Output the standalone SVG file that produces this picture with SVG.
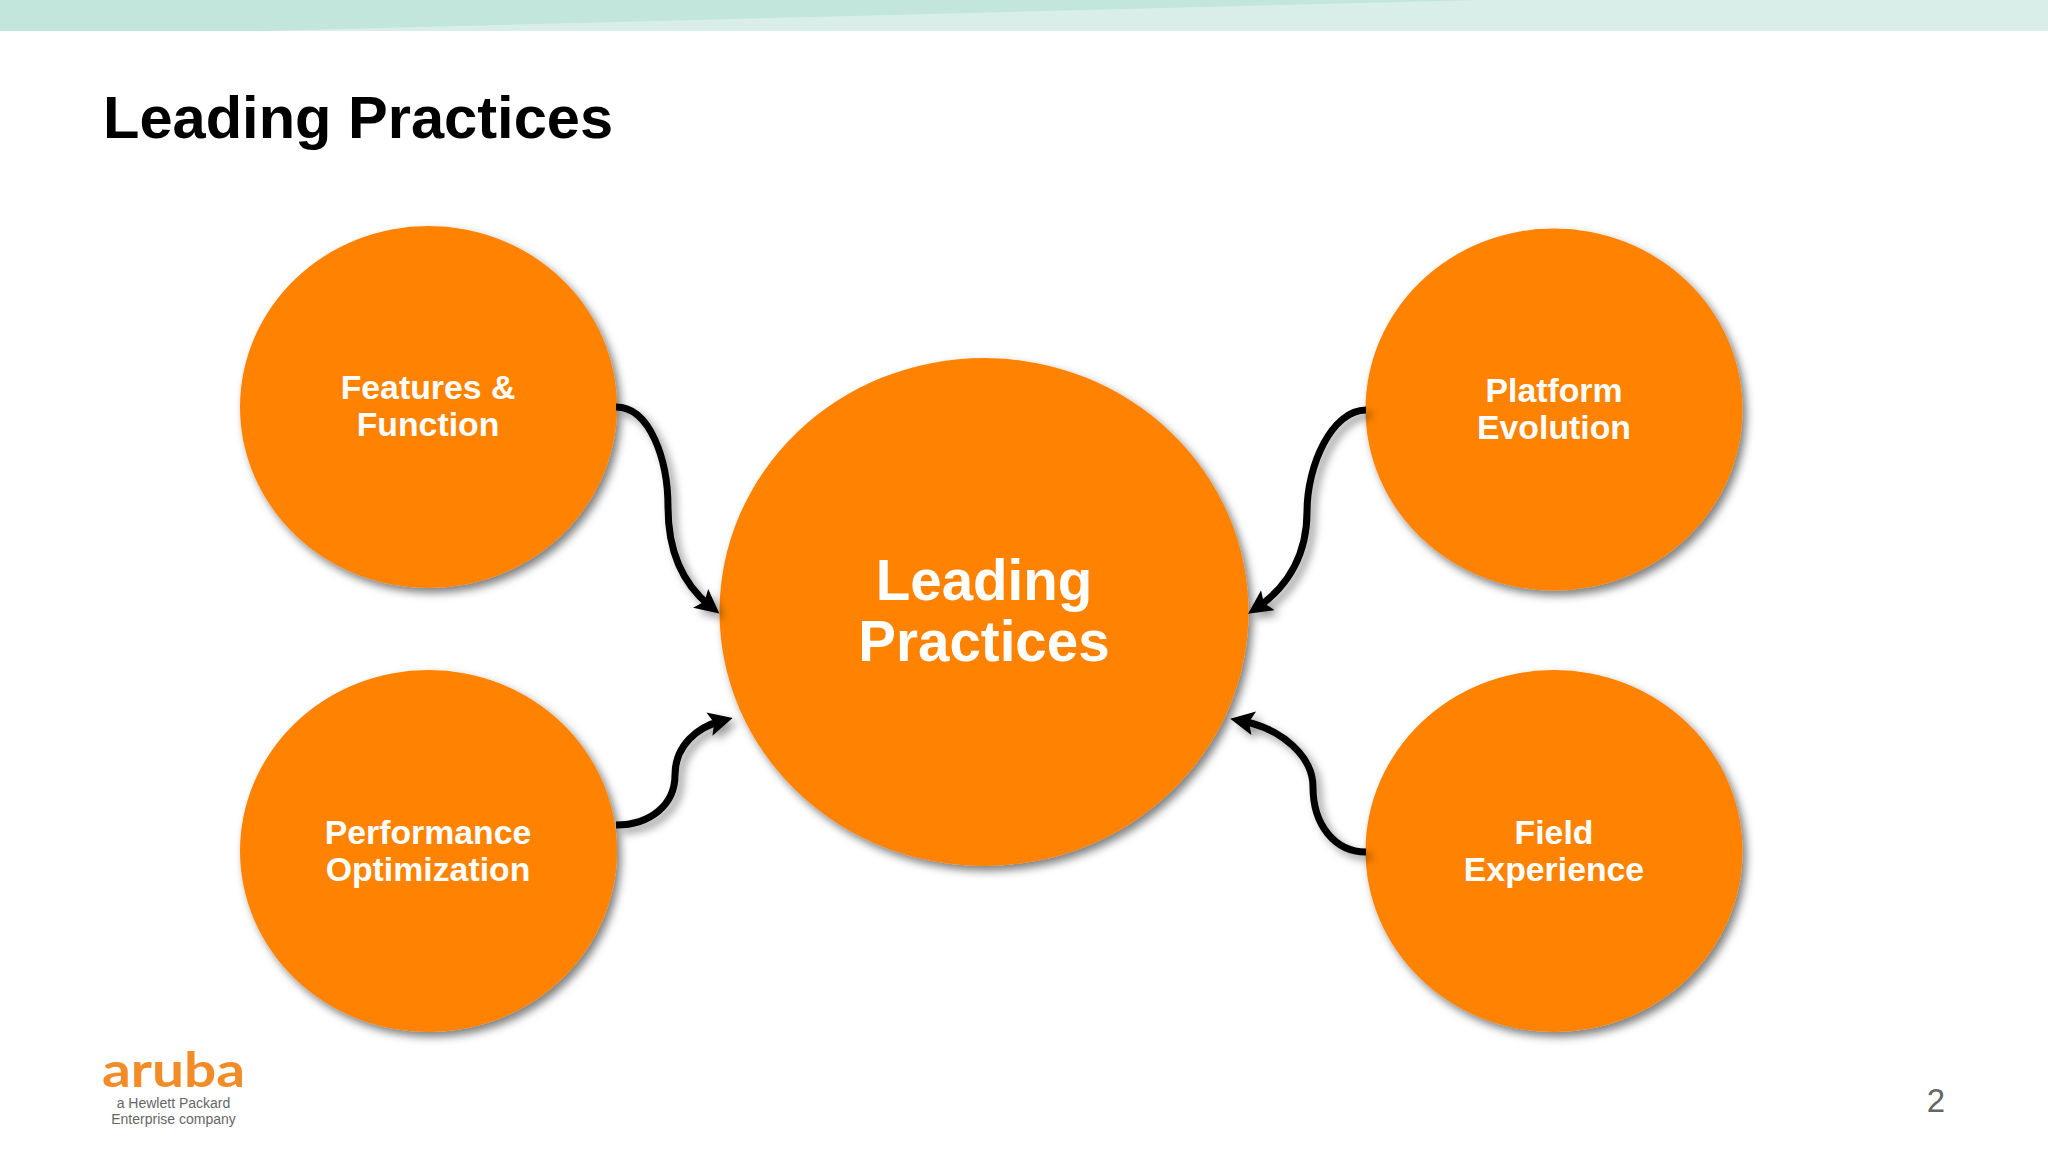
<svg xmlns="http://www.w3.org/2000/svg" width="2048" height="1152" viewBox="0 0 2048 1152">
<style>
text{font-family:"Liberation Sans",Arial,sans-serif}
.node{fill:#ff8300;filter:url(#sh)}
.t{fill:#fff;font-weight:700;font-size:33.8px;text-anchor:middle}
.big{fill:#fff;font-weight:700;font-size:56.5px;text-anchor:middle}
.c{fill:none;stroke:#000;stroke-width:7;marker-end:url(#arrow)}
</style>
<defs>
<filter id="sh" x="-10%" y="-10%" width="125%" height="125%"><feDropShadow dx="4" dy="5" stdDeviation="4" flood-color="#000" flood-opacity="0.5"/></filter>
<filter id="shc" x="-30%" y="-30%" width="170%" height="170%"><feDropShadow dx="5" dy="5" stdDeviation="4" flood-color="#000" flood-opacity="0.4"/></filter>
<marker id="arrow" markerUnits="userSpaceOnUse" markerWidth="28" markerHeight="28" refX="12" refY="12" orient="auto"><path d="M0 0L24 12L0 24L5 12Z" fill="#000"/></marker>
</defs>
<rect width="2048" height="1152" fill="#fff"/>
<g id="band"><rect width="2048" height="31" fill="#c2e6dc"/><polygon points="261,31 1480,0 2048,0 2048,31" fill="#d9eee8"/></g>
<text x="103" y="138" font-size="59.6" font-weight="700" fill="#000">Leading Practices</text>
<g id="n-features"><ellipse class="node" cx="428.5" cy="407" rx="188.5" ry="181"/><text class="t" x="428" y="399">Features &amp;</text><text class="t" x="428" y="436">Function</text></g>
<g id="n-performance"><ellipse class="node" cx="428.5" cy="851" rx="188.5" ry="181"/><text class="t" x="428" y="844">Performance</text><text class="t" x="428" y="881">Optimization</text></g>
<g id="n-platform"><ellipse class="node" cx="1554" cy="409.5" rx="188.5" ry="181"/><text class="t" x="1554" y="402">Platform</text><text class="t" x="1554" y="439">Evolution</text></g>
<g id="n-field"><ellipse class="node" cx="1554" cy="851" rx="188.5" ry="181"/><text class="t" x="1554" y="844">Field</text><text class="t" x="1554" y="881">Experience</text></g>
<g id="n-center"><ellipse class="node" cx="984" cy="612" rx="264.5" ry="254"/><text class="big" x="984" y="600">Leading</text><text class="big" x="984" y="661">Practices</text></g>
<g id="connectors" filter="url(#shc)">
<path class="c" d="M616 407C650 407 668 460 668 507C668 552 684 585 710 606"/>
<path class="c" d="M616 825C650 825 675 805 675 775C675 745 698 727 721 721"/>
<path class="c" d="M1366 410C1332 410 1307 465 1307 512C1307 552 1290 585 1258 607"/>
<path class="c" d="M1366 852C1335 852 1313 825 1313 787C1313 757 1283 729 1242 721"/>
</g>
<g id="logo">
<text x="102" y="1087" font-size="47" font-weight="700" fill="#f28c28" textLength="143" lengthAdjust="spacingAndGlyphs" style="font-family:Lato,'Liberation Sans',sans-serif">aruba</text>
<text x="173.500" y="1108" font-size="14" fill="#666" text-anchor="middle">a Hewlett Packard</text>
<text x="173.500" y="1124" font-size="14" fill="#666" text-anchor="middle">Enterprise company</text>
</g>
<text x="1936" y="1112" font-size="33" fill="#666" text-anchor="middle">2</text>
</svg>
